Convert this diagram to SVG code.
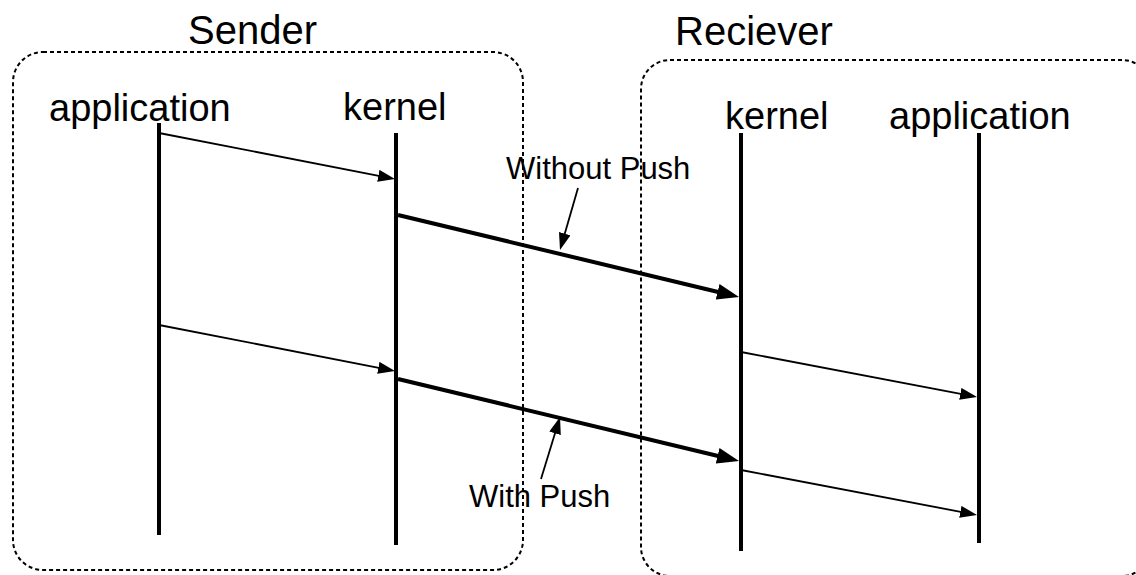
<svg xmlns="http://www.w3.org/2000/svg" width="1136" height="575" viewBox="0 0 1136 575">
  <style>
    .title { font-family: "Liberation Sans", Arial, sans-serif; font-size: 40px; fill: #000; }
    .label { font-family: "Liberation Sans", Arial, sans-serif; font-size: 38px; fill: #000; }
    .note { font-family: "Liberation Sans", Arial, sans-serif; font-size: 31px; fill: #000; }
    .box { fill: none; stroke: #000; stroke-width: 2; stroke-dasharray: 4 3; }
    .life { stroke: #000; stroke-width: 4; fill: none; }
    .msg { stroke: #000; stroke-width: 1.8; fill: none; marker-end: url(#head); }
    .seg { stroke: #000; stroke-width: 4; fill: none; marker-end: url(#headBold); }
    .ptr { stroke: #000; stroke-width: 1.8; fill: none; marker-end: url(#head); }
  </style>
  <defs>
    <marker id="head" markerUnits="userSpaceOnUse" markerWidth="17" markerHeight="12" viewBox="0 0 17 12" refX="7" refY="6" orient="auto">
      <path d="M0,0 L17,6 L0,12 z" fill="#000"/>
    </marker>
    <marker id="headBold" markerUnits="userSpaceOnUse" markerWidth="22" markerHeight="16" viewBox="0 0 22 16" refX="8" refY="8" orient="auto">
      <path d="M0,0 L22,8 L0,16 z" fill="#000"/>
    </marker>
  </defs>

  <rect width="1136" height="575" fill="#fff"/>

  <!-- Sender host -->
  <g id="sender">
    <rect class="box" x="13" y="52" width="510" height="518" rx="30" ry="30"/>
    <text class="title" x="188" y="44">Sender</text>
  </g>

  <!-- Receiver host (extends past the right and bottom edges) -->
  <g id="receiver">
    <rect class="box" x="641" y="60" width="510" height="516" rx="29" ry="29"/>
    <text class="title" x="675" y="45">Reciever</text>
  </g>

  <g id="sender-application">
    <text class="label" x="49" y="121">application</text>
    <line class="life" x1="159" y1="123" x2="159" y2="535"/>
  </g>

  <g id="sender-kernel">
    <text class="label" x="343" y="120">kernel</text>
    <line class="life" x1="396" y1="133" x2="396" y2="545"/>
  </g>

  <g id="receiver-kernel">
    <text class="label" x="725" y="129">kernel</text>
    <line class="life" x1="741" y1="133" x2="741" y2="551"/>
  </g>

  <g id="receiver-application">
    <text class="label" x="889" y="129">application</text>
    <line class="life" x1="979" y1="133" x2="979" y2="543"/>
  </g>

  <g id="without-push">
    <text class="note" x="506" y="179">Without Push</text>
  </g>

  <g id="with-push">
    <text class="note" x="469" y="507">With Push</text>
  </g>

  <g id="connectors">
    <!-- application to kernel (sender) -->
    <line class="msg" x1="159" y1="133" x2="385.2" y2="177.1"/>
    <line class="msg" x1="159" y1="325" x2="385.2" y2="369.1"/>
    <!-- kernel to kernel over the wire -->
    <line class="seg" x1="398" y1="215" x2="725.4" y2="293.7"/>
    <line class="seg" x1="398" y1="379" x2="725.4" y2="457.7"/>
    <!-- kernel to application (receiver) -->
    <line class="msg" x1="741" y1="352" x2="967.2" y2="395.1"/>
    <line class="msg" x1="741" y1="470" x2="967.2" y2="513.1"/>
    <!-- callout pointers -->
    <line class="ptr" x1="578" y1="188" x2="562.8" y2="240.4"/>
    <line class="ptr" x1="541" y1="479" x2="557.1" y2="426.6"/>
  </g>
</svg>
